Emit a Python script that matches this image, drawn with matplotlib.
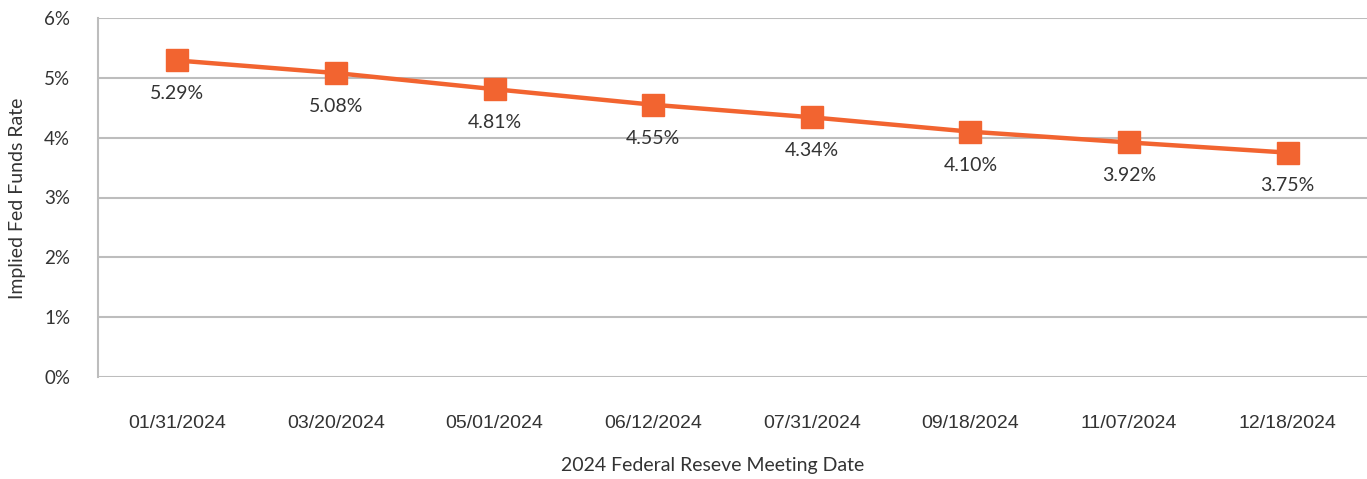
import matplotlib.pyplot as plt
import numpy as np

# Meeting dates and implied rates
dates = ["01/31/2024", "03/20/2024", "05/01/2024", "06/12/2024",
         "07/31/2024", "09/18/2024", "11/07/2024", "12/18/2024"]
rates = [5.29, 5.08, 4.81, 4.55, 4.34, 4.10, 3.92, 3.75]
y_ticks = [0, 1, 2, 3, 4, 5, 6]

line_color = '#F26430'
grid_color = '#BDBDBD'
text_color = '#333333'

fig = plt.figure(figsize=(13.67, 4.79), dpi=100)
ax = fig.add_axes([98 / 1367, 1 - 377 / 479, 1 - 98 / 1367, (377 - 18) / 479])

x = np.arange(len(dates))
ax.plot(x, rates, color=line_color, linewidth=3.2, marker='s', markersize=16,
        markerfacecolor=line_color, markeredgecolor=line_color, zorder=3)

for xi, v in zip(x, rates):
    ax.annotate(f'{v:.2f}%', xy=(xi, v), xytext=(0, -24), textcoords='offset points',
                ha='center', va='center', fontsize=14, family='Lato', color=text_color)

ax.set_xlim(-0.5, len(dates) - 0.5)
ax.set_ylim(0, 6)
ax.set_yticks(y_ticks)
ax.set_yticklabels([f'{t}%' for t in y_ticks], fontsize=13.5, family='Lato', color=text_color)
ax.set_xticks(x)
ax.set_xticklabels(dates, fontsize=14, family='Liberation Sans', color=text_color)
ax.tick_params(axis='y', length=0, pad=20)
ax.tick_params(axis='x', length=0, pad=27)

ax.grid(axis='y', color=grid_color, linewidth=1.5)
ax.set_axisbelow(True)
for s in ['top', 'right', 'bottom']:
    ax.spines[s].set_visible(False)
ax.spines['left'].set_color(grid_color)
ax.spines['left'].set_linewidth(1.5)

fig.text(18 / 1367, 1 - 198 / 479, 'Implied Fed Funds Rate', rotation=90,
         ha='center', va='center', fontsize=14, family='Lato', color=text_color)
fig.text(713 / 1367, 1 - 466 / 479, '2024 Federal Reseve Meeting Date',
         ha='center', va='center', fontsize=14, family='Lato', color=text_color)

plt.savefig('out.png', dpi=100)
plt.close()
